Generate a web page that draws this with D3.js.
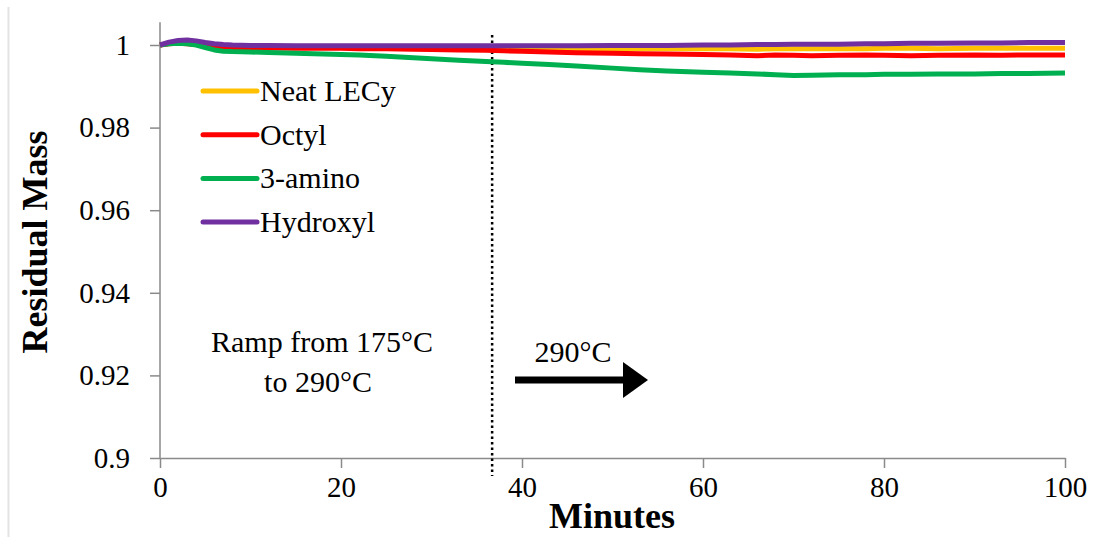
<!DOCTYPE html>
<html>
<head>
<meta charset="utf-8">
<script src="https://cdn.jsdelivr.net/npm/d3@7"></script>
<style>
  body { margin: 0; background: #fff; }
  text { font-family: "Liberation Serif", "Times New Roman", serif; fill: #000; }
</style>
</head>
<body>
<div id="chart"></div>
<script>
// data
var minutes = [0, 1, 2, 3, 4, 5, 6, 7, 8, 10, 12, 15, 18, 20, 22, 25, 28, 30, 33, 36, 38, 40, 43, 46, 50, 53, 56, 60, 63, 66, 68, 70, 72, 75, 78, 80, 83, 86, 90, 93, 96, 100];

var neatLECy = [1.0000, 1.0004, 1.0007, 1.0008, 1.0006, 1.0003, 1.0000, 0.9998, 0.9997, 0.9996, 0.9996, 0.9995, 0.9995, 0.9995, 0.9994, 0.9994, 0.9993, 0.9993, 0.9993, 0.9992, 0.9992, 0.9992, 0.9991, 0.9991, 0.9991, 0.9991, 0.9991, 0.9991, 0.9991, 0.9990, 0.9991, 0.9991, 0.9991, 0.9991, 0.9991, 0.9992, 0.9992, 0.9991, 0.9992, 0.9992, 0.9992, 0.9992];
var octyl = [1.0000, 1.0003, 1.0004, 1.0003, 1.0001, 0.9998, 0.9996, 0.9995, 0.9994, 0.9993, 0.9993, 0.9992, 0.9992, 0.9992, 0.9991, 0.9991, 0.9990, 0.9989, 0.9988, 0.9987, 0.9986, 0.9985, 0.9983, 0.9981, 0.9980, 0.9979, 0.9978, 0.9977, 0.9976, 0.9974, 0.9976, 0.9975, 0.9974, 0.9975, 0.9976, 0.9975, 0.9974, 0.9975, 0.9976, 0.9975, 0.9976, 0.9976];
var amino = [1.0000, 1.0003, 1.0004, 1.0003, 1.0000, 0.9994, 0.9988, 0.9985, 0.9984, 0.9983, 0.9982, 0.9980, 0.9978, 0.9977, 0.9976, 0.9973, 0.9969, 0.9967, 0.9963, 0.9960, 0.9958, 0.9956, 0.9953, 0.9949, 0.9944, 0.9940, 0.9937, 0.9934, 0.9932, 0.9930, 0.9928, 0.9926, 0.9927, 0.9928, 0.9928, 0.9929, 0.9929, 0.9930, 0.9930, 0.9931, 0.9931, 0.9932];
var hydroxyl = [1.0000, 1.0007, 1.0011, 1.0012, 1.0010, 1.0006, 1.0003, 1.0001, 1.0000, 0.9999, 0.9999, 0.9998, 0.9998, 0.9998, 0.9998, 0.9998, 0.9998, 0.9998, 0.9998, 0.9998, 0.9998, 0.9998, 0.9998, 0.9998, 0.9999, 0.9999, 0.9999, 1.0000, 1.0000, 1.0001, 1.0001, 1.0002, 1.0002, 1.0002, 1.0003, 1.0003, 1.0004, 1.0004, 1.0005, 1.0005, 1.0006, 1.0006];

var seriesNames = ["Neat LECy", "Octyl", "3-amino", "Hydroxyl"];
var seriesColors = ["#FFC000", "#FF0000", "#00B050", "#7030A0"];
var seriesValues = [neatLECy, octyl, amino, hydroxyl];

var xTicks = [0, 20, 40, 60, 80, 100];
var yTicks = [0.9, 0.92, 0.94, 0.96, 0.98, 1];
var yTickLabels = ["0.9", "0.92", "0.94", "0.96", "0.98", "1"];
var rampEnd = 36.7;

var svgWidth = 1109;
var svgHeight = 537;

var svg = d3.select("#chart")
  .append("svg")
  .attr("width", svgWidth)
  .attr("height", svgHeight);

// thin frame edge on the left
svg.append("line")
  .attr("x1", 8.5).attr("x2", 8.5)
  .attr("y1", 7).attr("y2", 537)
  .attr("stroke", "#e3e3e3")
  .attr("stroke-width", 2);

var x = d3.scaleLinear().domain([0, 100]).range([160, 1065]);
var y = d3.scaleLinear().domain([0.9, 1]).range([458, 45]);
var yTop = y(1.0055);

// axes
var xAxis = svg.append("g")
  .attr("transform", `translate(0, ${y(0.9)})`)
  .call(d3.axisBottom(x).tickValues(xTicks).tickSize(10).tickPadding(8).tickSizeOuter(0));

var yAxis = svg.append("g")
  .attr("transform", `translate(${x(0)}, 0)`)
  .call(d3.axisLeft(y).tickValues(yTicks).tickFormat((d, i) => yTickLabels[i]).tickSize(10).tickPadding(20).tickSizeOuter(0));

yAxis.select(".domain").attr("d", `M0,${yTop}V${y(0.9)}`);

[xAxis, yAxis].forEach(g => {
  g.selectAll(".domain, line").attr("stroke", "#8a8a8a").attr("stroke-width", 1.5);
  g.selectAll("text")
    .style("font-family", "Liberation Serif, Times New Roman, serif")
    .style("font-size", "29px")
    .attr("fill", "#000");
});
xAxis.selectAll("text").attr("dy", "0.71em");

// ramp divider
svg.append("line")
  .attr("x1", x(rampEnd)).attr("x2", x(rampEnd))
  .attr("y1", 35).attr("y2", 476)
  .attr("stroke", "#000")
  .attr("stroke-width", 2.5)
  .attr("stroke-dasharray", "2.5,3");

// series
var line = d3.line()
  .x((d, i) => x(minutes[i]))
  .y(d => y(d));

seriesValues.forEach((vals, k) => {
  svg.append("path")
    .datum(vals)
    .attr("d", line)
    .attr("fill", "none")
    .attr("stroke", seriesColors[k])
    .attr("stroke-width", 5)
    .attr("stroke-linejoin", "round");
});

// legend
var legend = svg.append("g");
seriesNames.forEach((name, k) => {
  var ly = 91 + k * 43.7;
  legend.append("line")
    .attr("x1", 203).attr("x2", 257)
    .attr("y1", ly).attr("y2", ly)
    .attr("stroke", seriesColors[k])
    .attr("stroke-width", 5)
    .attr("stroke-linecap", "round");
  legend.append("text")
    .attr("x", 260)
    .attr("y", ly + 10)
    .style("font-size", "30px")
    .text(name);
});

// annotations
svg.append("text")
  .attr("x", 322).attr("y", 352)
  .attr("text-anchor", "middle")
  .style("font-size", "30px")
  .text("Ramp from 175°C");

svg.append("text")
  .attr("x", 318).attr("y", 392)
  .attr("text-anchor", "middle")
  .style("font-size", "30px")
  .text("to 290°C");

svg.append("text")
  .attr("x", 573).attr("y", 362)
  .attr("text-anchor", "middle")
  .style("font-size", "30px")
  .text("290°C");

svg.append("line")
  .attr("x1", 515).attr("x2", 626)
  .attr("y1", 380).attr("y2", 380)
  .attr("stroke", "#000")
  .attr("stroke-width", 7);

svg.append("path")
  .attr("d", "M623,362 L648,380 L623,398 Z")
  .attr("fill", "#000");

// axis titles
svg.append("text")
  .attr("x", 612).attr("y", 528)
  .attr("text-anchor", "middle")
  .style("font-size", "36px")
  .style("font-weight", "bold")
  .text("Minutes");

svg.append("text")
  .attr("transform", "translate(47, 242) rotate(-90)")
  .attr("text-anchor", "middle")
  .style("font-size", "36px")
  .style("font-weight", "bold")
  .text("Residual Mass");
</script>
</body>
</html>
